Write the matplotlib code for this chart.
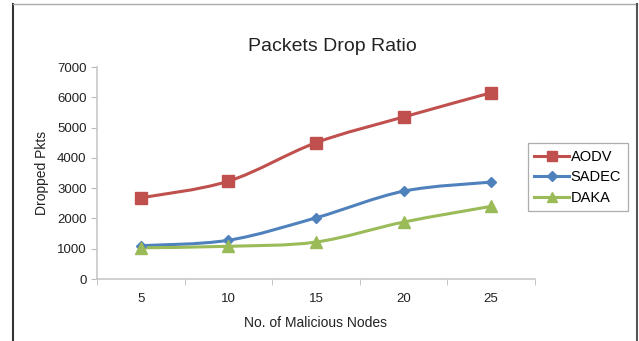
import matplotlib.pyplot as plt
import numpy as np
from matplotlib.path import Path
from matplotlib.patches import PathPatch
from matplotlib.lines import Line2D

plt.rcParams['font.family'] = ['Liberation Sans', 'DejaVu Sans']

nodes = [5, 10, 15, 20, 25]
aodv = [2680, 3230, 4500, 5350, 6150]
sadec = [1100, 1280, 2020, 2900, 3200]
daka = [1030, 1080, 1220, 1880, 2400]

series = [
    ('AODV', aodv, '#C0504D', 's', 8),
    ('SADEC', sadec, '#4F81BD', 'D', 5.5),
    ('DAKA', daka, '#9BBB59', '^', 8),
]


def smoothPath(xs, ys):
    # excel-like smoothed line as cubic bezier segments
    pts = list(zip(xs, ys))
    verts = [pts[0]]
    codes = [Path.MOVETO]
    n = len(pts)
    for i in range(n - 1):
        p0 = pts[i - 1] if i > 0 else pts[i]
        p1 = pts[i]
        p2 = pts[i + 1]
        p3 = pts[i + 2] if i + 2 < n else pts[i + 1]
        c1 = (p1[0] + (p2[0] - p0[0]) / 6, p1[1] + (p2[1] - p0[1]) / 6)
        c2 = (p2[0] - (p3[0] - p1[0]) / 6, p2[1] - (p3[1] - p1[1]) / 6)
        verts += [c1, c2, p2]
        codes += [Path.CURVE4] * 3
    return Path(verts, codes)


fig = plt.figure(figsize=(6.39, 3.41), dpi=100)
ax = fig.add_axes([0.1518, 0.1818, 0.6854, 0.6217])

handles = []
for name, vals, col, mk, ms in series:
    ax.add_patch(PathPatch(smoothPath(nodes, vals), facecolor='none', edgecolor=col, lw=2.2, zorder=2))
    ax.plot(nodes, vals, linestyle='none', marker=mk, color=col, markersize=ms, zorder=3)
    handles.append(Line2D([0], [0], color=col, lw=2.2, marker=mk, markersize=ms * 0.85, label=name))

ax.set_xlim(2.5, 27.5)
ax.set_ylim(0, 7000)
ax.set_xticks(nodes)
ax.set_xticks(np.arange(2.5, 28, 5), minor=True)
ax.tick_params(axis='x', which='major', length=0, pad=10, labelsize=9.5, colors='#222222')
ax.tick_params(axis='x', which='minor', length=4, direction='out', color='#BBBBBB')
ax.set_yticks(range(0, 7001, 1000))
ax.tick_params(axis='y', length=4, direction='out', labelsize=9.5, colors='#222222')
ax.tick_params(axis='y', color='#BBBBBB')

for s in ['top', 'right']:
    ax.spines[s].set_visible(False)
for s in ['left', 'bottom']:
    ax.spines[s].set_color('#C8C8C8')
    ax.spines[s].set_linewidth(1.2)

ax.set_xlabel('No. of Malicious Nodes', fontsize=10, labelpad=8, color='#222222')
ax.set_ylabel('Dropped Pkts', fontsize=10, labelpad=6, color='#222222')
fig.text(0.52, 0.865, 'Packets Drop Ratio', ha='center', va='center', fontsize=14, color='#222222')

leg = fig.legend(handles=handles, loc='upper left', bbox_to_anchor=(0.826, 0.58),
                 frameon=True, fancybox=False, fontsize=10.5, handlelength=2.4,
                 handletextpad=0.1, labelspacing=0.45, borderpad=0.45, borderaxespad=0)
leg.get_frame().set_edgecolor('#999999')
leg.get_frame().set_linewidth(0.9)

# outer frame of the screenshot
fig.add_artist(Line2D([13 / 639, 13 / 639], [0, 1 - 4 / 341], color='#333333', lw=1.5, transform=fig.transFigure))
fig.add_artist(Line2D([13 / 639, 637 / 639], [1 - 4 / 341, 1 - 4 / 341], color='#AAAAAA', lw=1.0, transform=fig.transFigure))
fig.add_artist(Line2D([637 / 639, 637 / 639], [0, 1 - 4 / 341], color='#555555', lw=1.5, transform=fig.transFigure))

fig.savefig('out.png', dpi=100)
